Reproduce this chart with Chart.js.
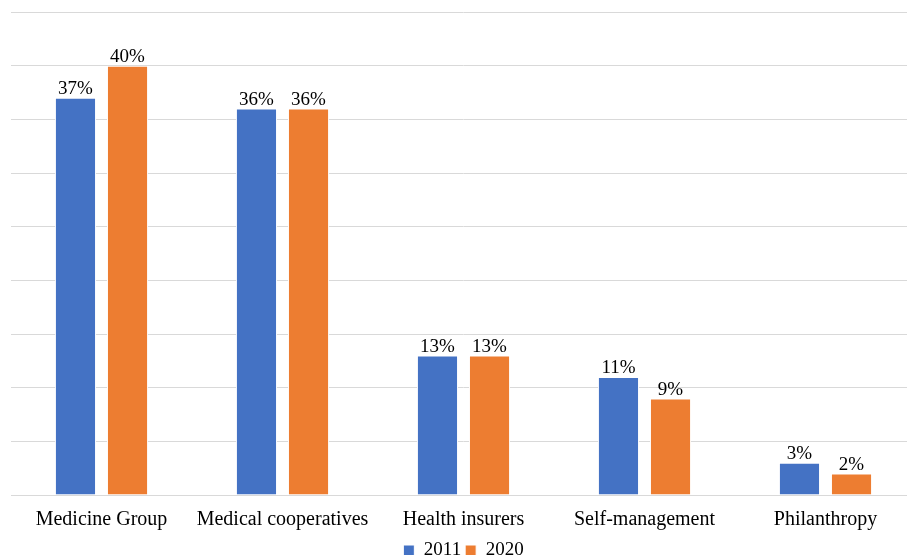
<!DOCTYPE html>
<html>
<head>
<meta charset="utf-8">
<script src="https://cdn.jsdelivr.net/npm/chart.js@4/dist/chart.umd.min.js"></script>
<style>
  html, body { margin: 0; padding: 0; background: #fff; overflow: hidden; }
  #wrap { width: 916px; height: 555px; }
</style>
</head>
<body>
<div id="wrap"><canvas id="chart"></canvas></div>
<script>
// data
const categories = ['Medicine Group', 'Medical cooperatives', 'Health insurers', 'Self-management', 'Philanthropy'];
const values2011 = [37, 36, 13, 11, 3];
const values2020 = [40, 36, 13, 9, 2];
const seriesNames = ['2011', '2020'];

const BLUE = '#4472c4';
const ORANGE = '#ed7d31';
const FONT = "'Liberation Serif', 'Times New Roman', serif";

// simple value labels above each bar
const barLabels = {
  id: 'barLabels',
  afterDatasetsDraw(chart) {
    const ctx = chart.ctx;
    ctx.save();
    ctx.fillStyle = '#000';
    ctx.font = '19px ' + FONT;
    ctx.textAlign = 'center';
    ctx.textBaseline = 'bottom';
    chart.data.datasets.forEach((ds, i) => {
      chart.getDatasetMeta(i).data.forEach((bar, j) => {
        ctx.fillText(ds.data[j] + '%', bar.x, bar.y + 1);
      });
    });
    ctx.restore();
  }
};

// the legend sits lower than Chart.js puts it: trim its box a bit
const tightLegend = {
  id: 'tightLegend',
  beforeUpdate(chart) {
    const lg = chart.legend;
    if (!lg || lg._tight) return;
    const fit = lg.fit.bind(lg);
    lg.fit = function () { fit(); this.height -= 15; };
    lg._tight = true;
  }
};

new Chart(document.getElementById('chart'), {
  type: 'bar',
  data: {
    labels: categories,
    datasets: [
      { label: seriesNames[0], data: values2011, backgroundColor: BLUE, borderColor: '#fff', borderWidth: 1 },
      { label: seriesNames[1], data: values2020, backgroundColor: ORANGE, borderColor: '#fff', borderWidth: 1 },
    ],
  },
  options: {
    responsive: true,
    maintainAspectRatio: false,
    animation: false,
    categoryPercentage: 0.575,
    barPercentage: 0.79,
    layout: { padding: { left: 11, right: 0, top: 12, bottom: 0 } },
    plugins: {
      tooltip: { enabled: false },
      legend: {
        position: 'bottom',
        labels: {
          color: '#000',
          font: { family: FONT, size: 19 },
          boxWidth: 11,
          boxHeight: 11,
          padding: 4,
        },
      },
    },
    scales: {
      x: {
        grid: { display: false },
        border: { color: '#d9d9d9', width: 1 },
        ticks: { color: '#000', font: { family: FONT, size: 20 }, padding: 5, maxRotation: 0 },
      },
      y: {
        min: 0,
        max: 45,
        ticks: { display: false, stepSize: 5 },
        grid: { color: '#d9d9d9', drawTicks: false },
        border: { display: false },
      },
    },
  },
  plugins: [barLabels, tightLegend],
});
</script>
</body>
</html>
